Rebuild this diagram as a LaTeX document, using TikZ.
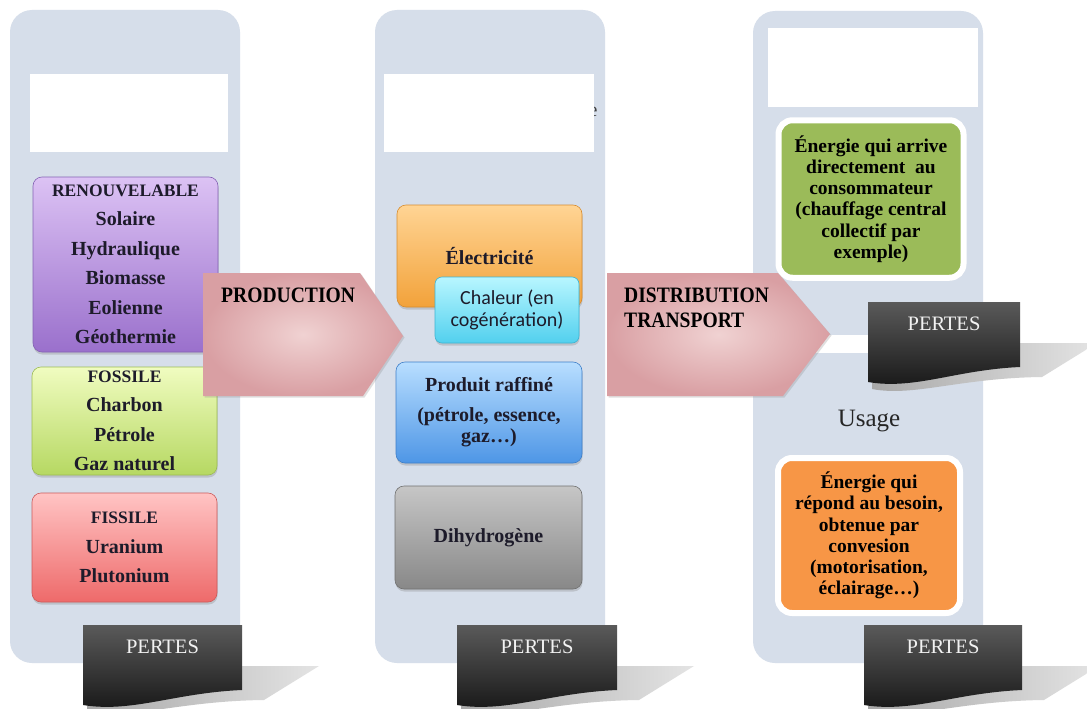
\documentclass[tikz,border=0pt]{standalone}
\usepackage{fontspec}
\setmainfont{Liberation Serif}
\newfontfamily\arrowfont[FakeStretch=0.89]{Liberation Serif}
\newfontfamily\calfont{Carlito}
\newcommand\capsize{\fontsize{17.5}{29.5}\selectfont}
\usetikzlibrary{shadows}
\definecolor{colbgc}{RGB}{214,222,234}
\definecolor{txtdark}{HTML}{1D1B2A}
\definecolor{purpT}{HTML}{DCC2F4}
\definecolor{purpB}{HTML}{9A70CC}
\definecolor{purpD}{HTML}{8462B4}
\definecolor{greenT}{HTML}{F0FCC0}
\definecolor{greenB}{HTML}{B6D862}
\definecolor{greenD}{HTML}{9CBC52}
\definecolor{redT}{HTML}{FFC4C4}
\definecolor{redB}{HTML}{EE6A6A}
\definecolor{redD}{HTML}{CC5A5A}
\definecolor{oranT}{HTML}{FFD494}
\definecolor{oranB}{HTML}{F2A23A}
\definecolor{oranD}{HTML}{D88C2E}
\definecolor{cyanT}{HTML}{B8F6FF}
\definecolor{cyanB}{HTML}{52D0EE}
\definecolor{cyanD}{HTML}{3EB4D2}
\definecolor{blueT}{HTML}{B8DEFF}
\definecolor{blueB}{HTML}{4E96E6}
\definecolor{blueD}{HTML}{3E7EC8}
\definecolor{grayT}{HTML}{C6C6C6}
\definecolor{grayB}{HTML}{888888}
\definecolor{grayD}{HTML}{707070}
\definecolor{olivebox}{HTML}{9BBB59}
\definecolor{orangebox}{HTML}{F79646}
\definecolor{arrowIn}{HTML}{F0D2D2}
\definecolor{arrowOut}{HTML}{D99FA3}
\definecolor{pshadL}{HTML}{A8A8A8}
\definecolor{pshadR}{HTML}{E4E4E4}
\definecolor{pdarkT}{HTML}{5A5A5A}
\definecolor{pdarkB}{HTML}{161616}
\definecolor{ptext}{HTML}{F2F2F2}
\newcommand\PertesBox[4]{%
\begin{scope}[shift={(#1,#2)}]
 \shade[left color=pshadL, right color=pshadR] (#3,41) -- (#3+77,41) -- (#3+22,75) .. controls (#3*0.6,76) and (#3*0.3,95) .. (4,87) -- (4,60) -- cycle;
 \shade[top color=pdarkT, bottom color=pdarkB] (0,0) -- (#3,0) -- (#3,65) .. controls (#3*0.57,68) and (#3*0.31,88) .. (0,80) -- cycle;
 \node[font=\fontsize{20.5}{20}\selectfont, text=ptext] (#4) at (#3/2,22) {PERTES};
\end{scope}}
\begin{document}
\begin{tikzpicture}[x=1pt,y=-1pt,
  colbg/.style={fill=colbgc, rounded corners=22pt},
  blank/.style={fill=white},
  glass/.style={rounded corners=9pt, line width=0.6pt, align=center, text=txtdark, inner sep=0pt,
     drop shadow={shadow xshift=0.5pt, shadow yshift=-2.5pt, opacity=0.3}},
  boxtxt/.style={font=\fontsize{20}{29.5}\selectfont\bfseries},
  flat/.style={draw=white, line width=6pt, rounded corners=14pt, align=center, inner sep=0pt, text=black,
     font=\fontsize{19.5}{21.2}\selectfont\bfseries,
     drop shadow={shadow xshift=0pt, shadow yshift=-2pt, opacity=0.25}},
  bigarrow/.style={inner color=arrowIn, outer color=arrowOut,
     drop shadow={shadow xshift=1.5pt, shadow yshift=-1.5pt, opacity=0.25}},
  arrowtxt/.style={font=\fontsize{22}{25}\selectfont\arrowfont\bfseries, text=black, align=left, anchor=west, inner sep=0pt}
]
\useasboundingbox (0,0) rectangle (1087,709);
\clip (0,0) rectangle (1087,709);
\fill[white] (0,0) rectangle (1087,709);

% column backgrounds
\fill[colbg] (10,10) rectangle (240,663);
\fill[colbg] (375,10) rectangle (605,663);
\fill[colbg] (753,11) rectangle (983,663);
\fill[white] (753,335) rectangle (986,353);

% blank title boxes
\node[font=\fontsize{20}{20}\selectfont, text=black!75] (ehint) at (593,112) {e};
\fill[blank] (30,74) rectangle (228,152);
\fill[blank] (384,74) rectangle (594,152);
\fill[blank] (768,28) rectangle (978,107);

% column 1
\node[glass, boxtxt, top color=purpT, bottom color=purpB, draw=purpD, minimum width=185pt, minimum height=175pt]
  (renouv) at (125.5,264.5) {{\capsize RENOUVELABLE}\\Solaire\\Hydraulique\\Biomasse\\Eolienne\\Géothermie};
\node[glass, boxtxt, top color=greenT, bottom color=greenB, draw=greenD, minimum width=185pt, minimum height=108pt]
  (fossile) at (124.5,421) {{\capsize FOSSILE}\\Charbon\\Pétrole\\Gaz naturel};
\node[glass, boxtxt, top color=redT, bottom color=redB, draw=redD, minimum width=185pt, minimum height=109pt]
  (fissile) at (124.5,547.5) {{\capsize FISSILE}\\Uranium\\Plutonium};

% column 2
\node[glass, boxtxt, top color=oranT, bottom color=oranB, draw=oranD, minimum width=185pt, minimum height=102pt]
  (elec) at (489.5,256) {Électricité};
\node[glass, rounded corners=7pt, font=\fontsize{20}{22}\selectfont\calfont, top color=cyanT, bottom color=cyanB, draw=cyanD,
  minimum width=144pt, minimum height=66pt] (chaleur) at (507,310) {Chaleur (en\\cogénération)};
\node[glass, font=\fontsize{20}{21}\selectfont\bfseries, top color=blueT, bottom color=blueB, draw=blueD, minimum width=186pt, minimum height=101pt]
  (raffine) at (489,412.5) {Produit raffiné\\[9pt](pétrole, essence,\\gaz…)};
\node[glass, boxtxt, top color=grayT, bottom color=grayB, draw=grayD, minimum width=187pt, minimum height=103pt]
  (dihydro) at (488.5,537.5) {Dihydrogène};

% column 3
\node[flat, fill=olivebox, minimum width=185pt, minimum height=157.5pt] (direct) at (871,199)
  {Énergie qui arrive\\directement~ au\\consommateur\\(chauffage central\\collectif par\\exemple)};
\node[font=\fontsize{25}{25}\selectfont, text=black!85] (usage) at (869,421) {Usage};
\node[flat, fill=orangebox, minimum width=182pt, minimum height=155pt] (besoin) at (869,535.5)
  {Énergie qui\\répond au besoin,\\obtenue par\\convesion\\(motorisation,\\éclairage…)};

% big arrows
\path[bigarrow] (203,273) -- (360,273) -- (403,336) -- (363,396) -- (203,396) -- cycle;
\node[arrowtxt] (prod) at (221,295) {PRODUCTION};
\path[bigarrow] (607,273) -- (778,273) -- (830,334) -- (783,396) -- (607,396) -- cycle;
\node[arrowtxt] (distrib) at (624,308) {DISTRIBUTION\\TRANSPORT};

% losses
\PertesBox{83}{625}{159}{p1}
\PertesBox{457}{625}{160}{p2}
\PertesBox{868}{302}{152}{p3}
\PertesBox{864}{625}{158}{p4}
\end{tikzpicture}
\end{document}
